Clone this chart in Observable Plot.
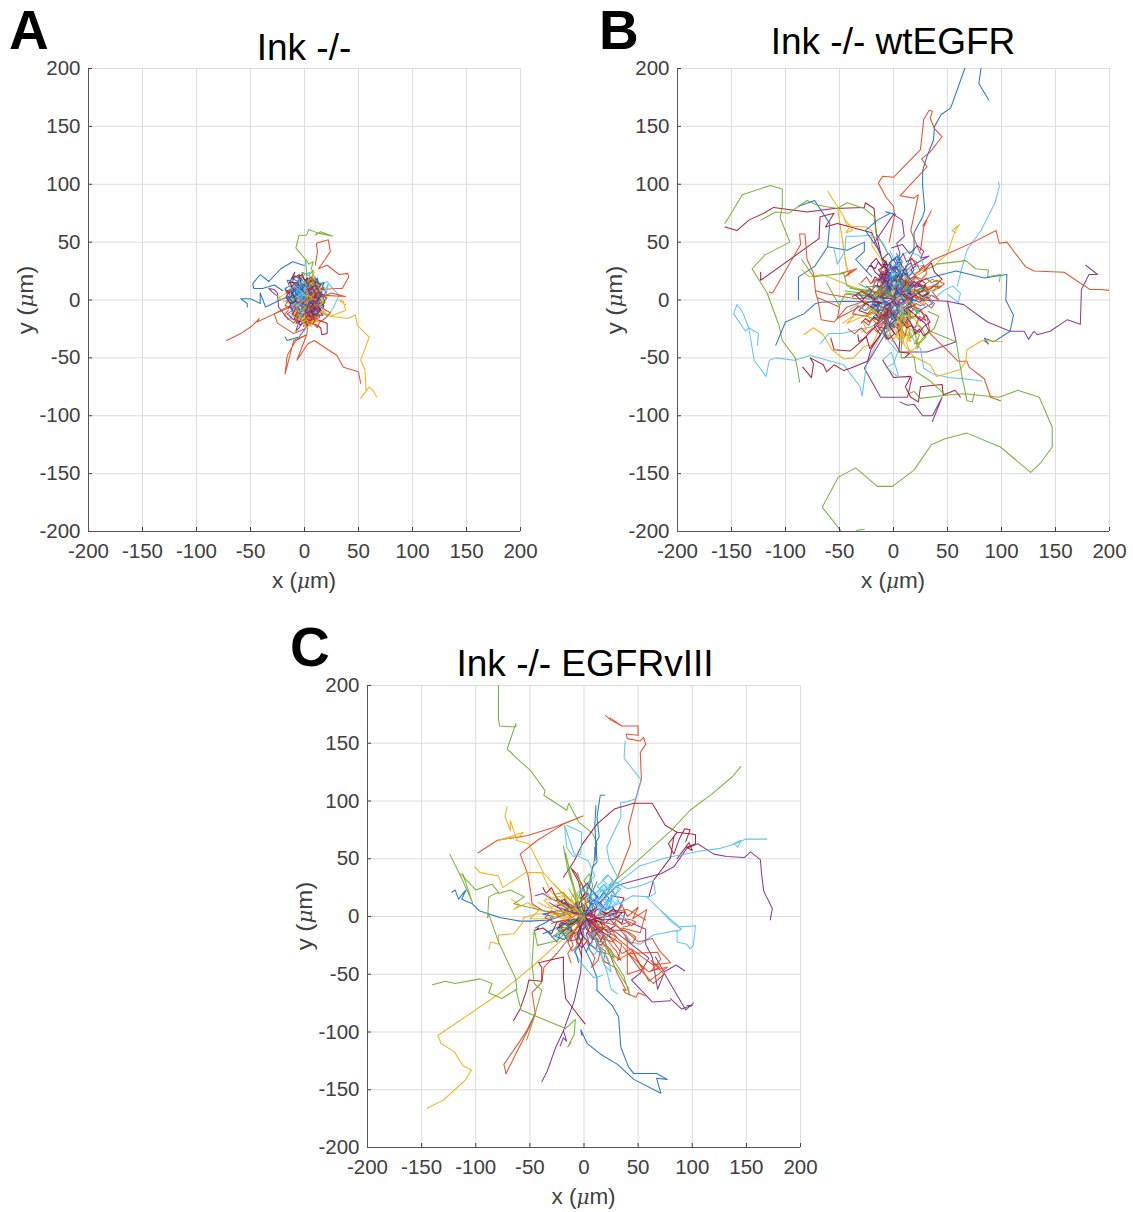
<!DOCTYPE html>
<html>
<head>
<meta charset="utf-8">
<script src="https://cdn.jsdelivr.net/npm/d3@7"></script>
<script src="https://cdn.jsdelivr.net/npm/@observablehq/plot@0.6"></script>
<style>
html,body{margin:0;padding:0;background:#fff}
#page{position:relative;width:1133px;height:1212px;overflow:hidden;background:#fff}
#page>div{position:absolute}
.panelPlot svg{display:block;background:transparent;max-width:none}
.title{font:37px "Liberation Sans",Arial,sans-serif;color:#000;white-space:nowrap;transform:translateX(-50%);line-height:1}
.letter{font:bold 55px "Liberation Sans",Arial,sans-serif;color:#000;line-height:1}
.lab{font:22.5px "Liberation Sans",sans-serif;color:#404040;white-space:nowrap;line-height:1}
.lab i{font-family:"DejaVu Serif","Liberation Serif",serif;font-size:20px}
</style>
</head>
<body>
<div id="page"></div>
<script>
// Axis ticks
const tickValues = [-200,-150,-100,-50,0,50,100,150,200];
const titles = ["Ink -/-","Ink -/- wtEGFR","Ink -/- EGFRvIII"];
const letters = ["A","B","C"];
const colorNames = {blue:"#1a6cc4",red:"#e0461e",yellow:"#f0ab10",purple:"#7e2f8e",green:"#6cad2c",sky:"#55c0f0",wine:"#a2142f"};

// Panel A tracks, flat x,y lists
const aBlue = [
 [0,30,-1,30,-11,33,-22,27,-33,16,-41,22,-48,14,-47,10,-39,10,-28,13,-20,8],
 [-8,2,-15,3,-25,-1,-36,-6,-41,6,-41,-3,-50,1,-59,1,-53,-3,-53,-6],
 [0,-12,2,-23,-5,-32,-16,-35,-18,-32],
 [0,0,-4,5,-9,3,-7,9,-13,12,-10,6,-15,2,-9,-3,-12,-8,-5,-6,-7,-12,-1,-9,3,-14,5,-7],
 [0,0,5,4,2,10,7,14,4,19,9,16,11,9,16,6,12,1,17,-3,11,-7,13,-13,7,-10],
 [1,2,-3,-5,2,-8,-2,-14,-7,-10,-9,-17,-3,-19,2,-15,5,-15,9,-17,7,-9],
 [3,-2,6,-2,10,3,6,7,-1,5,-3,12,2,15,-2,20,-6,16,-10,18],
 [2,1,-3,2,-2,8,3,6,7,10,2,12,-4,9,-8,12,-12,7,-7,1,-11,-3],
 [4,-3,9,-1,7,-7,2,-6,4,-11,10,-9,13,-4,8,1,12,6,6,3],
 [1,0,-1,3,-4,2,-5,6,-8,5,-9,9,-6,11,-3,9,-1,13,2,11,3,15,6,12,5,8,8,6,6,2,9,0,7,-3,4,-2,3,-6,0,-4],
 [-6,-2,-9,0,-12,-2,-14,2,-11,4,-13,8,-9,8,-7,5,-4,7,-5,2,-2,0,-4,-3,-1,-6,-4,-9,-8,-7,-10,-10,-13,-7],
 [-15,6,-18,10,-14,12,-16,17,-11,16,-9,21,-5,18,-7,13,-3,12,-6,7,-10,9,-12,3,-17,1],
 [16,-5,19,-2,17,3,20,7,16,10,18,15,13,14,12,19,9,16,11,10,15,6,12,2,14,-3]
];
const aRed = [
 [15,9,30,10,35,10,41,20,40,23,32,22,21,30,13,27,19,35,24,42,22,52,11,49,12,42,10,30],
 [-16,-6,-28,-12,-44,-19,-42,-16,-48,-22,-59,-29,-72,-35],
 [-10,-5,-28,-12,-25,-20,-10,-29,0,-25],
 [5,-10,2,-30,-10,-35,-13,-46,-18,-64,-16,-48,-8,-35,2,-30,-7,-52,3,-38,9,-35,30,-48,36,-58,50,-62,52,-72],
 [3,0,18,4,38,3,25,6,14,2],
 [0,-2,-6,-6,-3,-12,-10,-14,-6,-20,2,-16,-1,-23,6,-19,9,-12,4,-8,12,-6,16,-12],
 [1,1,7,6,3,12,9,15,12,8,18,11,14,4,21,2,16,-3,9,-2],
 [-1,3,-7,6,-11,12,-15,6,-18,9,-14,1,-18,-5,-11,-7,-7,-1,-3,-6],
 [2,-1,-2,4,4,8,0,14,6,20,10,14,7,9,13,6,9,0],
 [3,1,5,3,8,2,9,5,12,4,14,7,11,9,9,7,7,10,4,8,5,5,2,6,1,3,-1,1,-1,-3,2,-4,4,-7,7,-5,8,-8,11,-6,12,-2],
 [-3,-4,-5,-1,-8,-3,-9,-7,-6,-9,-8,-12,-4,-13,-3,-9,0,-10,1,-14,4,-12,5,-17,8,-15,10,-18,7,-21],
 [-15,-9,-19,-13,-14,-17,-10,-20,-6,-15,-12,-12,-8,-7],
 [18,-8,24,-11,19,-16,14,-19,12,-24,8,-20,12,-13,17,-13]
];
const aYellow = [
 [9,-8,24,-14,40,-16,47,-13,49,-22,60,-32,52,-52,56,-60,57,-79,52,-85,60,-75,64,-79,67,-84],
 [14,-8,24,-14,38,-9,36,-1,32,0,38,-4],
 [-2,0,-8,6,-14,8,-20,4,-24,2,-16,-2,-8,-3],
 [2,0,6,-6,11,-2,15,-8,10,-13,13,-19,8,-16,5,-22,3,-14,-2,-10,2,-5],
 [0,1,4,6,0,11,5,16,9,11,12,16,15,10,10,5,16,2,12,-3,7,-1],
 [1,-1,-5,-2,-9,-8,-4,-11,-8,-15,-2,-17,1,-12,6,-15,4,-8,8,-5,3,-3],
 [3,2,-1,7,-6,5,-4,12,2,10,5,18,9,24,6,14,12,12,8,5],
 [2,-2,7,2,12,-3,18,0,14,-6,19,-10,12,-12,8,-7,3,-10],
 [4,-4,6,-8,9,-9,8,-13,11,-15,10,-19,7,-18,6,-23,3,-20,4,-16,1,-14,3,-11,0,-9,2,-6,5,-5,7,-2,10,-4,12,-7,14,-4],
 [6,3,9,5,7,8,10,9,12,6,15,8,13,11,9,12,8,15,5,14,4,10,2,8,4,4,7,1,10,0,13,-2,16,0,17,-3],
 [-4,-16,-1,-21,3,-24,-2,-19,2,-17,-3,-13,-6,-17,-10,-14,-8,-9]
];
const aPurple = [
 [-15,-17,-24,-6,-25,6,-28,9,-33,10,-30,7,-26,4],
 [0,-1,-6,3,-2,8,-8,10,-12,5,-7,0,-11,-5,-5,-8,-9,-14,-3,-12,1,-17,5,-11,9,-15,7,-7],
 [2,0,6,4,11,2,9,8,14,7,12,13,6,11,3,17,-1,12,-4,16,-2,7],
 [1,-2,5,-7,10,-5,14,-10,8,-13,6,-20,0,-18,-4,-22,-7,-16,-3,-9],
 [4,1,10,-3,16,-1,18,-7,12,-9,7,-4,3,-7,-2,-3,2,2,8,4],
 [-2,-1,-8,-4,-14,-2,-11,-9,-16,-12,-10,-17,-6,-11,-1,-13],
 [3,-4,7,-9,3,-12,9,-17,14,-15,10,-8,15,-5,8,-1],
 [5,-1,8,-3,6,-6,9,-8,11,-5,13,-7,14,-3,11,-2,9,1,7,-2,5,-5,7,-9,4,-11,6,-14,9,-12,11,-15,12,-10,15,-9,13,-5],
 [7,1,10,3,8,-1,12,0,13,3,10,6,7,4,5,1,4,-3,2,-5,5,-7,8,-6,10,-9,7,-11,5,-8,3,-10,4,-14,7,-16],
 [6,-5,8,-7,11,-8,13,-6,10,-4,12,-1,9,-1,8,-4,6,-2,4,-4,6,-8,9,-10,8,-13,11,-12,13,-11],
 [-2,-20,-5,-24,-8,-27,-6,-21,-4,-17,-1,-13,2,-9],
 [13,1,16,4,13,7,10,5,8,8,12,11,9,13,6,9,3,10,4,6,7,5]
];
const aGreen = [
 [2,10,2,23,1,35,-8,45,-5,56,2,56,4,61,12,58,26,55,15,59,10,56,12,58],
 [1,35,4,31,8,33,6,26],
 [0,0,-5,-3,-9,2,-14,-1,-10,7,-5,10,-8,15,-2,14,2,18,6,12,2,7],
 [2,-1,8,-5,12,0,17,-4,20,2,15,7,11,4,8,10,13,15,9,20],
 [1,1,-3,-6,2,-10,-5,-14,-1,-20,4,-16,8,-21,10,-13,5,-9],
 [-1,2,3,7,-3,10,1,15,-4,18,-2,24,4,21,8,26,7,16,3,12],
 [3,0,9,-6,15,-10,11,-15,6,-12,3,-17,-3,-14,-8,-18,-6,-8],
 [4,3,6,6,9,5,8,9,5,10,7,13,3,13,4,17,7,19,9,15,11,18,12,13,10,10,13,8,11,4,14,3],
 [-12,-3,-8,-6,-4,-3,-1,-7,3,-4,6,-8,9,-5,7,0,3,-1,0,3,-4,0,-7,3,-11,1]
];
const aSky = [
 [5,-3,21,-14,26,-8,32,4,26,10,21,16,14,12],
 [0,0,-4,4,-8,1,-12,6,-7,10,-11,15,-5,14,-1,19,3,13,7,18,8,9],
 [2,1,7,4,12,1,16,6,11,11,16,14,19,9,22,14,20,4,14,-1],
 [1,-1,-3,-5,-8,-3,-13,-7,-9,-12,-14,-16,-7,-18,-2,-12,3,-16,6,-10],
 [3,2,-2,6,3,9,-1,14,5,17,9,21,11,12,6,8,11,5],
 [-1,-2,-6,-1,-12,2,-17,-1,-13,4,-8,7,-3,3,2,6,6,1],
 [4,-1,10,-4,8,-10,14,-12,17,-6,11,-1,5,-5,1,-8,-2,-3],
 [1,3,5,8,1,12,-3,7,-8,12,-4,18,0,22,5,24,4,15],
 [-2,2,-5,4,-4,8,-7,7,-9,10,-6,12,-4,10,-2,13,1,10,0,7,-3,6,-1,3,-4,1,-7,3,-10,1,-8,-2,-11,-4,-8,-6,-5,-3,-2,-5],
 [-6,6,-10,7,-12,10,-9,12,-6,9,-3,11,-5,15,-1,16,2,13,0,9,3,7,1,4,-2,6,-5,2,-8,4],
 [-3,-2,-6,-5,-9,-3,-12,-5,-10,-8,-7,-7,-5,-10,-2,-8,0,-11,-3,-13,-6,-12,-4,-16],
 [-7,2,-5,5,-8,8,-5,9,-3,5,-6,3,-3,1,-1,5,2,3,0,0,-3,-1]
];
const aWine = [
 [5,-8,12,-17,21,-20,21,-29,16,-30,15,-24,10,-21],
 [-14,15,-9,24,-11,18,-5,22,-3,14,1,10],
 [0,0,6,3,2,8,8,11,4,15,10,19,14,13,11,7,17,5,12,0],
 [1,-1,-4,-4,-1,-9,-7,-7,-11,-12,-5,-15,-8,-20,-1,-17,3,-22,4,-12,9,-10,7,-4],
 [-1,1,-6,4,-12,2,-16,8,-10,10,-14,15,-7,15,-3,9,2,13,-1,4],
 [3,-1,9,-3,14,1,18,-5,13,-8,17,-13,10,-14,6,-8,2,-13,0,-6],
 [2,2,-2,-3,4,-5,8,0,4,4,10,6,6,10,0,7,-5,9,-8,3,-3,-1],
 [-4,6,-7,9,-10,8,-12,12,-9,14,-7,11,-5,14,-3,18,-6,20,-2,22,0,17,3,19,1,13,-2,11,-1,7,2,5,-1,3],
 [6,6,9,8,7,11,10,13,13,10,15,13,12,16,8,14,6,17,3,14,5,10,2,9,3,5,6,3,9,4,12,2,10,-1,7,0],
 [3,-6,0,-10,4,-12,1,-16,5,-18,9,-14,6,-10,10,-7,7,-3],
 [-14,-2,-17,3,-14,7,-10,4,-8,-1,-12,-3,-15,-7]
];

// Panel B tracks
const bBlue = [
 [5,15,19,43,19,58,27,72,29,78,27,98,27,112,31,124,37,138,38,150,44,160,53,166,66,200,69,210,81,210,81,200,79,187,88,173],
 [10,12,37,20,58,25,84,19,105,22,104,0,111,-13,108,-27,93,-36,84,-33,88,-38,84,-35],
 [-20,20,-35,35,-27,42,-27,50,-43,43,-61,46,-59,66,-73,86,-88,81],
 [-10,-2,-43,-1,-67,-2,-72,-3,-83,-12,-100,-19,-109,-39],
 [-88,0,-88,20,-73,29,-61,46],
 [-5,25,-15,45,-26,60,-15,69,-3,75,-7,76,2,74],
 [0,0,-6,7,-2,14,-9,18,-5,26,-12,24,-15,13,-8,8,-13,2,-6,-4,-9,-11,-2,-8,1,-15,6,-9],
 [1,1,6,6,2,13,8,18,4,24,11,27,14,17,9,11,17,8,12,2,18,-2,10,-6,13,-13],
 [-1,0,-5,-7,0,-12,-6,-16,-3,-24,3,-20,6,-27,9,-17,4,-10,11,-9,7,-3],
 [2,2,-3,5,-8,2,-6,10,0,9,3,17,-3,20,-1,29,6,25,8,33,3,40],
 [0,-1,7,-3,13,2,20,-1,26,4,21,8,28,12,17,13,11,7,6,11,3,4],
 [1,0,-7,-4,-15,-1,-21,-6,-14,-10,-19,-15,-9,-16,-4,-10,-1,-17,4,-12],
 [0,2,3,8,-2,12,-8,11,-11,18,-4,22,0,16,5,21,8,14,4,7],
 [-2,1,5,-5,10,-1,6,4,14,6,18,0,13,-5,16,-11,8,-12,5,-18],
 [2,4,4,8,1,11,4,14,7,12,6,17,2,18,3,23,-1,24,1,29,4,31,2,36,-2,34,-3,28,-6,26,-4,20,-7,17,-5,12,-2,10,-3,5],
 [-3,8,-5,12,-2,15,1,19,-3,22,-6,25,-8,30,-3,31,0,27,3,29,5,24,8,22,6,16,9,12,5,10,3,6],
 [6,-4,3,-7,5,-11,1,-13,3,-17,-1,-19,1,-24,-3,-21,-5,-17,-2,-13,-5,-9,-2,-5],
 [-4,40,-1,34,3,38,7,32,3,27,7,23,2,21,-1,16,-4,21,-8,16,-5,11,-9,6],
 [-25,12,-20,8,-23,3,-17,1,-20,-4,-13,-4,-16,-9,-10,-9,-7,-3,-11,3,-7,7],
 [5,18,9,24,13,22,11,29,16,32,19,26,14,20,18,15,13,12,16,7,10,9],
 [-14,-24,-10,-28,-6,-34,-9,-25,-5,-21,-9,-16,-3,-15,1,-9]
];
const bRed = [
 [25,40,19,53,16,60,23,91,19,88,6,90,31,115,26,122,34,128,45,141,38,148,34,157,36,163,33,164,28,156,25,130,0,106,-10,107,-14,101,-7,89,0,81,1,73,-4,50],
 [20,22,37,35,50,40,74,50,95,60,98,49,105,50,122,29,130,25,158,24,182,9,192,9,203,8],
 [25,43,28,63,31,69,27,64,31,70,35,77],
 [99,-87,90,-84,84,-68,70,-58,68,-53,60,-53,34,-29,31,-14,22,-8],
 [-115,7,-112,6,-86,48,-87,57,-82,57,-80,35,-74,23,-72,6,-70,0,-67,-17,-55,-19,-43,-6,-30,-2],
 [-49,23,-41,25,-34,27,-45,20,-38,26],
 [-72,8,-60,5,-35,1,-20,2,-10,3],
 [-70,2,-50,-6,-52,-16,-38,-9,-26,-3],
 [0,0,5,7,1,13,7,19,12,13,9,7,16,9,21,4,15,0,20,-5,12,-7],
 [-1,0,-6,5,-13,2,-10,10,-17,12,-22,6,-15,0,-20,-6,-11,-5,-7,-11,-3,-5],
 [1,-1,6,-7,2,-13,8,-18,4,-25,-2,-20,-5,-27,-9,-19,-4,-13,0,-9],
 [2,1,10,0,18,3,28,-1,35,4,42,0,36,7,44,12,30,11,22,15,14,8],
 [0,2,-4,9,-10,14,-5,20,-12,26,-6,31,1,24,5,30,6,20,3,12],
 [-2,-2,-9,-7,-16,-4,-26,-9,-33,-5,-38,-12,-26,-14,-18,-11,-13,-16,-6,-12],
 [3,-3,11,-8,17,-15,12,-20,20,-24,24,-14,30,-18,25,-8,16,-5],
 [8,3,12,2,14,6,18,5,20,9,25,7,28,11,33,9,37,13,42,10,47,14,40,17,35,15,30,19,25,16,20,20,15,15,10,17,8,11],
 [5,-2,9,-4,13,-2,17,-6,21,-3,25,-5,30,-3,35,-7,38,-3,33,1,28,3,22,2,18,5,13,3,9,5],
 [-30,8,-26,5,-22,10,-17,6,-13,9,-8,4,-11,14,-16,18,-21,14,-25,20,-30,15],
 [-28,-18,-23,-22,-20,-16,-15,-21,-11,-14,-6,-18,-3,-8],
 [12,25,17,30,15,36,21,33,24,26,28,30,31,23,26,18,21,20,17,14],
 [-42,-25,-36,-29,-30,-24,-25,-29,-19,-24,-15,-28,-9,-20,-4,-12]
];
const bYellow = [
 [10,20,37,29,50,40,57,60,61,65,54,60,58,58],
 [-61,94,-52,81,-44,30,-41,20,-44,32,-52,81,-46,72,-43,64,-25,63,-20,60,-20,47,-10,33,-4,15],
 [-46,70,-40,64,-44,58,-38,60,-42,66],
 [-83,-30,-74,-24,-65,-30,-57,-43,-46,-51,-37,-50,-27,-40,-20,-39,-12,-23,-4,-12],
 [101,-36,82,-35,68,-43,67,-53,62,-60,40,-66,34,-56,19,-49,10,-39,6,-20],
 [-47,-20,-35,-12,-43,-20,-30,-15,-18,-8],
 [-85,26,-78,20,-66,22,-40,12,-20,6],
 [0,0,4,-6,8,-12,3,-18,8,-25,3,-32,8,-38,12,-27,15,-18,10,-10,16,-5],
 [-1,0,-4,-8,-9,-13,-5,-20,-11,-26,-7,-34,-1,-27,1,-19,-3,-12,3,-7],
 [1,1,7,3,13,-1,20,3,27,-3,33,2,25,7,18,9,10,5],
 [0,1,-7,3,-14,-2,-20,3,-27,-1,-22,-7,-13,-8,-7,-4],
 [2,0,5,-9,11,-15,17,-12,22,-20,27,-25,21,-29,14,-24,9,-31,5,-18],
 [-1,2,2,10,-3,15,3,20,8,14,11,22,15,17,10,9,5,4],
 [0,-2,-3,-12,2,-18,-2,-24,4,-28,-1,-36,-6,-30,-5,-20],
 [6,-8,9,-11,7,-15,11,-17,9,-21,13,-23,11,-28,15,-30,12,-34,16,-36,13,-30,8,-33,6,-27,9,-23,5,-20,7,-15,3,-12],
 [3,-10,1,-14,4,-17,1,-21,5,-24,2,-29,5,-33,9,-29,7,-24,10,-20,13,-24,16,-19,13,-14,15,-10,11,-8,8,-5],
 [18,-28,22,-33,19,-38,25,-36,20,-42,15,-44,12,-37,16,-31],
 [-30,-28,-25,-25,-28,-20,-21,-18,-24,-13,-17,-10,-12,-14,-8,-8]
];
const bPurple = [
 [25,0,50,-1,65,-4,87,-19,108,-27,121,-27,125,-34,130,-27,133,-30,145,-27,161,-17,173,-21,174,9,181,22,189,22,178,30],
 [-5,-25,-27,-59,-12,-84,13,-84,17,-67],
 [50,-1,58,-36,31,-45,6,-45,-3,-30],
 [6,-88,13,-91,19,-90,27,-100,36,-100,45,-84,36,-105],
 [-18,49,0,74,8,69,10,55,3,49,6,40,0,25],
 [-2,45,8,48,15,40,22,47,28,42,25,36,33,38,18,30],
 [0,0,5,5,0,10,6,16,2,22,8,26,13,19,9,12,15,9,20,13,19,5,12,2],
 [-1,1,-7,-2,-12,3,-18,-1,-24,5,-29,-1,-20,-6,-14,-3,-10,-9,-3,-6],
 [1,-1,4,-8,-2,-12,3,-18,-3,-24,2,-30,7,-24,11,-31,13,-19,8,-13,12,-7],
 [0,1,-4,7,-9,4,-12,12,-7,16,-11,23,-3,24,-1,17,3,23,2,12],
 [2,0,9,-3,15,2,24,-2,31,3,36,-3,28,-7,22,-11,16,-6,8,-8],
 [0,-1,-6,-8,-12,-11,-8,-18,-15,-23,-6,-25,-2,-17,2,-10],
 [-2,2,3,6,9,5,4,12,11,17,17,11,23,15,29,9,21,5,13,7],
 [-3,3,-6,6,-4,10,-8,13,-5,17,-9,20,-6,24,-2,27,-4,32,0,35,3,30,1,25,5,22,2,17,5,13,1,9],
 [-4,-3,-8,-1,-11,-4,-14,-1,-16,-5,-13,-9,-16,-13,-11,-15,-8,-11,-5,-14,-6,-8,-2,-9,-3,-4],
 [-6,8,-9,11,-13,9,-15,13,-19,11,-17,16,-13,18,-10,14,-8,19,-5,15,-3,11,-6,9],
 [4,-2,7,1,10,-2,13,2,16,-1,18,3,15,6,11,4,9,8,6,5,3,9,1,5,2,1,-1,-2,2,-5,5,-3],
 [5,34,9,40,12,33,17,36,21,30,16,26,20,21,15,18,11,23,7,19],
 [-25,25,-22,30,-17,27,-14,33,-10,28,-7,34,-5,27,-9,22,-12,18],
 [20,-14,25,-18,30,-13,34,-19,28,-23,24,-28,19,-25,16,-20,12,-15],
 [-38,3,-32,6,-28,1,-23,5,-18,0,-14,4,-9,1,-5,3]
];
const bGreen = [
 [-44,-205,-66,-179,-51,-153,-35,-145,-15,-161,-1,-161,19,-147,35,-125,47,-120,68,-115,99,-127,127,-149,136,-141,147,-127,147,-110,135,-84,115,-78,98,-84,65,-81,50,-82,25,-85,19,-79,14,-81],
 [-36,-205,-34,-199,-27,-198],
 [-156,66,-140,91,-114,99,-103,96,-103,81,-105,71,-96,50,-119,39,-131,27,-117,6,-106,-22,-103,-35,-91,-50,-89,-59,-87,-71],
 [-123,69,-109,76,-97,75,-80,86,-71,82,-52,79,-43,84,-27,79,-18,72,-16,58,-5,40],
 [10,15,40,31,67,34,76,27,88,26,87,20,99,22,98,16],
 [34,-27,58,-36,64,-69,67,-82,68,-87,73,-88,75,-80],
 [-85,35,-74,20,-46,23,-43,12,-25,6,-10,2],
 [-62,15,-50,-5,-45,5,-20,3,-5,1],
 [8,-20,7,-50,19,-49,21,-62,34,-70,48,-82],
 [20,-25,22,-42,26,-34,38,-24,42,-14,32,-10],
 [0,0,6,-5,11,1,17,-4,23,-9,18,-16,11,-12,7,-19,2,-14],
 [-1,0,-5,6,-11,3,-15,9,-9,13,-12,19,-5,17,0,11,4,16],
 [1,1,8,6,14,12,21,7,28,12,33,7,26,3,18,0,12,-4],
 [0,-1,-4,-9,-10,-6,-15,-12,-21,-8,-25,-14,-16,-17,-10,-14,-6,-20],
 [1,2,-1,9,5,15,1,21,7,26,12,21,9,13,14,6],
 [-45,8,-38,7,-30,6,-24,8,-16,6,-8,7,-2,5,-8,4,-18,5,-28,4,-36,5,-44,6],
 [-40,10,-30,9,-20,8,-10,6,-2,3],
 [15,-18,18,-24,23,-22,27,-26,30,-32,26,-36,21,-38,24,-30,20,-28,16,-33,14,-27],
 [5,-8,9,-12,12,-8,16,-11,19,-7,23,-10,20,-14,15,-15,11,-19,8,-15],
 [-32,14,-26,11,-18,12,-10,9,-4,6],
 [30,14,36,18,42,15,38,9,31,7,26,10,20,5]
];
const bSky = [
 [59,12,62,23,68,43,81,60,94,84,98,98,97,102],
 [-126,-39,-125,-29,-134,-24,-137,-27,-148,-12,-145,-4,-140,-10,-134,-24,-129,-52,-118,-66,-115,-52,-109,-50,-92,-52,-77,-48,-46,-56,-31,-75,-29,-83,-25,-55,-18,-42,-6,-20],
 [82,-70,65,-68,51,-67,37,-64,28,-59,25,-42,19,-35,12,-20],
 [-55,44,-52,31,-45,42,-44,55,-34,55,-20,56,-10,50,-5,40],
 [-68,-38,-60,-29,-48,-29,-34,-26,-20,-23,-6,-15],
 [-10,-52,-2,-45,5,-67,-7,-58,0,-55,4,-45,-5,-35,-2,-20],
 [50,5,60,-2,62,6,55,12,46,8,40,3,30,5],
 [8,40,15,42,24,38,28,30,18,28,12,22],
 [0,0,-5,-6,-10,-1,-16,-5,-12,-12,-18,-16,-9,-19,-4,-12,1,-18,4,-10],
 [1,0,5,6,1,12,-4,9,-7,16,-1,19,4,25,9,19,7,11,14,9,10,3],
 [-1,1,-6,5,-12,8,-19,4,-25,9,-30,3,-22,0,-15,2,-9,-2,-4,3],
 [2,-1,9,-5,6,-11,13,-14,18,-8,24,-12,20,-3,13,1,7,-3],
 [0,2,4,9,9,15,14,22,8,27,3,33,-2,27,1,19,-4,15,-1,7],
 [-1,-2,3,-7,-2,-13,3,-20,-3,-26,-8,-20,-6,-12,-1,-6],
 [3,3,6,6,4,9,7,12,4,15,0,13,-2,16,1,19,-3,21,-5,17,-8,19,-7,14,-10,12,-6,9,-3,7,-6,4,-2,2],
 [-2,-3,1,-5,-1,-9,3,-10,5,-7,8,-9,6,-4,10,-3,12,1,8,3,5,1,3,4],
 [-3,42,0,36,5,37,2,30,7,28,4,22,-1,25,-3,18,2,15,-1,10],
 [-40,-8,-33,-4,-27,-9,-21,-4,-15,-8,-10,-3,-5,-6],
 [25,-3,31,-6,36,-2,33,4,27,2,21,6,16,3,11,6]
];
const bWine = [
 [-156,63,-145,60,-134,69,-120,75,-111,80,-80,76,-55,79,-27,80,-26,84,-18,79,-16,58,-10,32,-2,12],
 [-123,17,-123,24,-123,17,-69,53,-68,72,-55,75,-63,63,-52,66,-20,58,-12,40],
 [-84,-58,-76,-67,-74,-55,-77,-50,-65,-56,-62,-62,-55,-56,-46,-61,-40,-59,-24,-53,-21,-43,-6,-20],
 [-10,-52,0,-67,16,-66,11,-75,16,-84,23,-88,25,-75,45,-73,46,-82,57,-78,62,-84],
 [-58,-33,-55,-43,-40,-44,-30,-36,-22,-28,-10,-17],
 [-33,-30,-32,-36,-25,-32,-22,-42,-12,-30,-18,-22,-6,-12],
 [10,-50,15,-46,5,-45,6,-32,3,-20],
 [28,25,35,32,38,24,45,18,35,10,22,6],
 [0,0,5,-6,1,-12,7,-17,3,-24,10,-22,14,-14,10,-8,17,-5,12,1],
 [-1,0,-5,7,-10,4,-14,11,-8,15,-12,22,-5,22,-2,14,2,20,3,10],
 [1,1,8,5,13,0,19,5,26,1,33,6,29,13,21,11,15,16,10,9],
 [0,-1,-6,-5,-12,-2,-19,-7,-25,-3,-32,-9,-23,-12,-16,-9,-11,-15,-5,-10],
 [0,2,3,9,-2,14,4,20,-1,27,5,33,10,27,7,19,12,14,6,7],
 [2,-2,-3,-10,2,-17,-4,-22,1,-29,-5,-34,-9,-26,-6,-16],
 [-2,1,-9,2,-16,7,-22,2,-29,8,-35,4,-27,-3,-19,-1,-11,-3],
 [-20,15,-17,20,-13,17,-10,22,-14,26,-9,29,-5,26,-8,20,-4,18,-6,13,-2,10,-5,6],
 [15,12,19,16,23,13,26,17,30,14,27,9,32,6,27,3,22,6,18,3,14,6,11,2,8,5],
 [-30,-20,-26,-16,-22,-19,-18,-15,-14,-18,-11,-12,-7,-15,-5,-9,-9,-6,-4,-3],
 [8,-18,12,-24,17,-22,20,-29,24,-25,28,-31,33,-27,29,-20,24,-16,19,-12,14,-8],
 [-5,40,-10,36,-6,31,-12,30,-16,36,-21,31,-17,24,-12,20,-7,16]
];

// Panel C tracks
const cBlue = [
 [-6,-15,6,-38,12,-53,12,-64,26,-77,32,-87,34,-113,41,-130,46,-136,67,-136,77,-141,67,-140,71,-153,46,-141,31,-128,15,-119,3,-110,-3,-98,-2,-103],
 [-122,21,-119,23,-116,15,-109,23,-113,15,-103,11,-97,5,-77,-1,-59,-4,-50,-4,-32,-3,-15,2,-5,3],
 [19,105,15,105,12,86,14,69,11,64,12,47,8,43,5,25],
 [11,96,10,80,11,62,10,48,10,60],
 [-45,-10,-35,-5,-28,0,-38,2,-25,5,-12,3],
 [-35,-12,-25,-22,-22,-15,-14,-8,-8,-4],
 [0,0,4,6,9,4,7,11,13,12,17,8,14,3,20,1,17,-5,10,-3],
 [1,0,-5,-5,-10,-2,-15,-7,-11,-12,-17,-17,-21,-12,-14,-22],
 [0,1,6,10,3,15,9,20,14,15,18,21,23,16,19,10],
 [0,-1,3,-7,9,-10,7,-17,13,-21,11,-28,5,-24,2,-31],
 [-2,-1,-8,-3,-14,-8,-20,-6,-25,-11,-20,-14,-27,-17,-18,-20,-13,-16,-8,-11,-3,-5],
 [-30,-6,-24,-4,-18,-6,-12,-3,-6,-2,-1,0],
 [-22,6,-18,2,-14,5,-9,2,-4,1],
 [-38,-15,-30,-12,-24,-9,-17,-10,-11,-5,-5,-3],
 [-5,-40,-8,-30,-3,-22,-6,-14,-2,-7,0,-2],
 [-18,14,-12,10,-7,8,-3,4,0,1],
 [12,30,8,22,13,17,7,13,4,6]
];
const cRed = [
 [20,174,25,170,35,165,24,172,35,165,50,165,50,157,39,158,40,154,52,152,55,155,57,149,52,142,53,119,48,103,41,77,43,63,31,34,15,11],
 [-98,55,-80,66,-53,70,-28,77,-1,87,-19,80,-43,66,-59,54,-52,37,-49,20,-48,11,-38,5,-20,2],
 [-72,-136,-74,-128,-60,-109,-53,-99,-45,-84,-48,-66,-39,-57,-37,-44,-25,-32,-5,-8],
 [-72,-136,-63,-119,-51,-97,-45,-84],
 [57,-3,50,1,40,6,25,4,10,0],
 [28,-5,40,-19,40,-50,56,-45,41,-32,68,-31,71,-37,62,-47,77,-44,60,-56,45,-30,30,-18,8,-5],
 [58,-69,50,-66,48,-70,38,-66,36,-63,39,-64,31,-50,26,-38,18,-18,6,-3],
 [15,-5,28,-12,38,-12,50,-22,63,-19,70,-30,80,-40,64,-42,55,-36,44,-28,35,-32,22,-15],
 [20,-15,35,-24,31,-38,45,-30,52,-42,60,-48,70,-44,62,-38,74,-50,64,-58,52,-46,36,-26],
 [35,-10,52,-14,58,6,45,-2,50,8,40,0,35,10,30,2,18,2],
 [0,0,5,-7,11,-4,16,-11,22,-8,25,-15,18,-20,12,-14,7,-19,3,-10],
 [1,-1,8,2,14,-2,21,3,27,-3,33,1,27,-7,18,-5,10,-8],
 [-1,0,-6,-7,-3,-13,-9,-17,-5,-25,-11,-30,-15,-22,-9,-12],
 [0,1,-5,3,-11,-1,-17,4,-23,0,-30,5,-36,-1,-27,-5,-18,-3,-9,-6],
 [32,-4,35,-7,40,-5,44,-8,48,-5,44,-3,38,-2,42,-8,36,-9],
 [6,-6,12,-10,17,-9,22,-14,26,-12,30,-18,26,-22,20,-20,16,-25,11,-22,8,-14],
 [10,-12,14,-18,18,-24,24,-28,28,-34,34,-38,30,-30,26,-26,20,-18,14,-10,8,-6],
 [3,-5,8,-9,6,-16,12,-19,14,-26,20,-30,18,-38,24,-42,20,-34,15,-28,10,-18],
 [-12,-40,-15,-32,-10,-25,-13,-17,-7,-11,-4,-5],
 [2,-20,5,-28,10,-36,7,-44,13,-38,15,-30,11,-22],
 [38,-18,44,-24,48,-18,42,-14,36,-12,30,-8]
];
const cYellow = [
 [-145,-166,-130,-159,-110,-142,-104,-133,-112,-129,-120,-117,-132,-110,-135,-103,-80,-68,-46,-42,-25,-24,-6,-9],
 [-71,95,-73,87,-68,74,-68,83,-63,69,-79,66,-56,73,-63,66,-51,63,-37,37,-25,25,-12,14,-3,4],
 [-101,43,-96,38,-79,35,-75,25,-54,38,-39,38,-31,22,-20,12,-8,5],
 [-88,-28,-86,-22,-79,-24,-79,-16,-65,-15,-57,-6,-56,-1,-45,2,-30,3,-12,1],
 [-67,15,-60,10,-65,6,-52,12,-42,5,-50,-2,-38,-2,-25,0,-10,-1],
 [0,0,-5,4,-11,8,-17,5,-24,11,-30,8,-37,14,-29,16,-20,18,-13,10,-8,3],
 [1,1,-3,-5,-8,-2,-12,-9,-18,-7,-24,-13,-16,-15,-8,-11],
 [0,-1,5,3,10,-1,15,4,20,0,12,-4,6,-2],
 [0,1,-2,7,3,13,-1,18,-6,15,-8,21,-12,16,-7,8],
 [-1,-1,-6,-3,-13,0,-20,-2,-27,3,-19,5,-11,3,-5,6],
 [0,0,2,-8,-3,-13,1,-19,-4,-24,-8,-17,-4,-9],
 [-35,20,-28,14,-20,10,-13,7,-6,4,0,1],
 [-22,22,-16,16,-10,11,-5,6,-1,2],
 [-18,-3,-12,-1,-7,-2,-3,0],
 [-10,25,-7,18,-5,11,-2,5,0,0],
 [-42,12,-34,8,-26,6,-18,4,-10,2,-2,0],
 [-28,28,-20,20,-15,12,-9,9,-4,3],
 [-16,-20,-11,-14,-7,-9,-3,-4,0,-1],
 [-30,2,-22,1,-15,3,-8,1,-2,1]
];
const cPurple = [
 [172,-3,174,7,166,22,164,37,163,49,154,56,148,51,132,52,120,54,105,63,95,59,83,43,71,37,46,31,31,27,12,10],
 [-39,-143,-34,-134,-26,-113,-19,-99,-9,-73,-3,-48,-2,-27,0,-8],
 [101,-75,94,-81,74,-49,68,-63,63,-35,57,-24,57,-11,40,-4,15,5],
 [80,-73,63,-74,44,-55,52,-49,60,-36,45,-25,30,-14,15,-5],
 [93,-47,85,-42,74,-48,66,-35],
 [95,-77,100,-77,90,-80,80,-71],
 [-45,18,-38,20,-30,15,-22,13,-12,7,-4,2],
 [-22,-112,-19,-105,-16,-108,-19,-99],
 [0,0,6,-5,2,-11,8,-15,13,-10,18,-16,15,-22,9,-19,5,-25,2,-14],
 [1,0,-4,5,-9,2,-14,8,-19,4,-25,9,-17,12,-10,9,-5,13,-3,6],
 [0,-1,-5,-7,-11,-4,-15,-11,-9,-14,-13,-21,-6,-20,-3,-12],
 [1,1,6,4,12,8,9,14,15,12,20,6,26,9,30,3,22,0,13,-1,6,-3],
 [-1,1,1,8,-3,13,3,18,-2,24,3,29,7,22,5,13,10,8],
 [-32,12,-25,8,-18,6,-12,4,-6,2,-2,0],
 [2,-3,-1,-6,2,-9,-2,-11,-5,-8,-3,-4,-7,-3,-4,1,-1,3,3,1],
 [4,3,7,0,4,-3,9,-5,11,-1,7,3],
 [-3,-22,-1,-16,-4,-12,-1,-7,2,-3],
 [24,-18,18,-14,13,-11,8,-7,3,-3],
 [-8,12,-5,7,-2,9,0,4,3,6,1,1]
];
const cGreen = [
 [-79,210,-79,171,-78,165,-63,164,-63,167,-71,145,-62,137,-49,126,-36,109,-37,105,-16,92,-14,98,-5,82,8,72,12,63,9,46,3,23,0,5],
 [145,130,137,121,118,106,98,92,80,74,55,53,31,33,12,14,2,2],
 [-124,54,-114,35,-103,12,-112,37],
 [-114,37,-100,23,-85,28,-79,21,-88,17,-89,-1,-88,2,-79,-22,-68,-44,-63,-54,-62,-63,-76,-71,-88,-66,-85,-58,-96,-54,-119,-58,-128,-56,-140,-59],
 [-63,-63,-58,-81,-17,-97,-8,-89,-9,-102,-15,-113,-12,-109],
 [-79,20,-68,23,-55,17,-65,11,-37,5,-20,2],
 [-53,-107,-46,-87,-39,-64,-46,-58,-48,-41,-46,-11,-43,-25,-25,-21,-12,-9,-2,-2],
 [-19,61,-15,40,-9,23,-6,8,-17,55,-12,35,-7,18,-2,3],
 [17,-38,30,-45,41,-62,42,-68,37,-52,22,-30,10,-12],
 [12,-30,22,-32,28,-36,20,-24],
 [0,1,3,10,-1,17,4,24,0,31,5,37,8,27,5,16],
 [0,0,-6,4,-11,9,-16,6,-22,13,-27,19,-19,21,-12,13],
 [1,-1,5,-8,11,-12,9,-19,15,-25,20,-20,16,-10,8,-6],
 [-1,0,-4,-8,-9,-5,-13,-12,-19,-16,-23,-10,-16,-6,-8,-3],
 [-30,-18,-22,-13,-15,-9,-8,-5,-2,-1],
 [-6,38,-3,28,-4,18,-1,9,0,2],
 [-14,24,-9,16,-5,9,-2,3]
];
const cSky = [
 [38,152,37,137,53,118,48,102,38,99,34,99,34,86,21,60,23,49,31,34,20,18],
 [169,67,149,67,140,63,126,59,109,57,77,51,52,44,34,31,15,21,3,6],
 [140,62,142,60,145,66,138,63],
 [71,5,88,-9,103,-8,101,-25,98,-28,95,-24,86,-22,86,-12,64,-16,52,-24,43,-22,35,-10],
 [58,17,71,5,80,-4,90,-11,86,-13],
 [31,-67,25,-63,21,-47,15,-32,3,-21],
 [17,-51,9,-53,-2,-41,-9,-31,-3,-12],
 [-16,79,-2,73,-3,54,-10,52,-16,60,-18,79,-9,54,4,48,10,35,2,28,-5,18],
 [25,32,40,24,50,26,64,31,66,20,60,17,45,18,30,10],
 [15,16,21,10,27,22,32,14,25,5,18,8,12,14,8,22,2,26,6,14],
 [10,8,17,3,24,8,30,0,22,-6,14,-3,8,2],
 [22,35,12,26,20,20,10,12,18,6,26,16,34,24,24,28,15,22],
 [0,0,5,6,10,12,6,18,13,22,18,28,24,22,19,15,26,12,20,5,13,7],
 [0,-1,3,-8,-2,-14,4,-19,9,-13,13,-21,17,-14,11,-7],
 [1,1,-4,4,-8,9,-3,14,-7,20,-1,24,3,17,7,21,6,11],
 [18,14,22,18,19,22,25,24,28,19,24,15,29,12,25,8,20,11,16,8,12,11,15,16],
 [12,20,16,25,21,28,17,32,22,36,27,31,23,27,28,24,33,28,30,20,26,17],
 [8,4,13,8,11,14,17,17,21,13,26,15,23,9,18,7,14,3],
 [20,-8,24,-14,19,-22,16,-30,22,-36,25,-48,19,-42,15,-28,8,-14],
 [5,-15,8,-22,4,-28,10,-33,14,-26,9,-18],
 [30,14,36,10,32,4,38,-2,30,-3,24,3,18,-1,13,2]
];
const cWine = [
 [-19,34,-9,48,-2,62,12,80,28,93,46,98,63,98,75,79,86,73,103,71,103,63,95,60,100,57,97,64,86,50],
 [60,17,64,31,80,51,83,69,86,73,78,63,83,54,88,67,93,76,98,75,94,65],
 [-65,-90,-59,-80,-53,-64,-51,-55,-39,-56,-39,-44,-42,-40,-19,-35,-19,-53,-17,-71,-9,-81,1,-93],
 [-42,-10,-45,-12,-38,-10,-30,-15,-25,-5,-12,-2],
 [-38,25,-35,20,-30,25,-25,15,-18,12,-8,5],
 [25,18,37,16,33,8,28,-2,35,-6,38,4,22,2],
 [0,0,-6,-4,-3,-11,-9,-15,-13,-9,-19,-13,-23,-7,-15,-3,-9,-7],
 [1,0,5,5,1,11,7,15,3,20,-3,16,-2,8],
 [0,1,-5,6,-9,3,-14,9,-18,15,-24,12,-16,7,-8,8],
 [1,-1,7,-4,13,-1,19,-6,24,-2,29,-8,22,-12,14,-9,8,-13,5,-6],
 [-1,-1,2,-8,-3,-15,3,-21,-2,-27,-7,-22,-5,-12],
 [0,0,7,3,14,7,20,2,27,6,35,3,28,-2,18,-3,10,-1],
 [4,-2,8,-6,12,-3,9,-10,14,-14,18,-10,15,-5,10,-3],
 [-6,8,-3,14,1,21,-2,28,-8,38,-12,42,-5,30,-2,18],
 [3,2,8,-1,6,5,11,7,9,-2,5,-4,2,-1],
 [-2,-35,-5,-26,-1,-18,-4,-10,-1,-4],
 [-24,-10,-18,-6,-12,-7,-6,-3],
 [2,-1,6,-8,3,-14,8,-20,12,-14]
];

const colorKeys = ["blue","red","yellow","purple","green","sky","wine"];
const panelData = [
 [aBlue,aRed,aYellow,aPurple,aGreen,aSky,aWine],
 [bBlue,bRed,bYellow,bPurple,bGreen,bSky,bWine],
 [cBlue,cRed,cYellow,cPurple,cGreen,cSky,cWine]
];

function rowsOf(groups){
  const rows = [];
  const n = d3.max(groups, g => g.length);
  for (let i = 0; i < n; i++) {
    groups.forEach((g, c) => {
      if (!g[i]) return;
      const id = colorKeys[c] + i;
      for (let k = 0; k < g[i].length; k += 2)
        rows.push({id, color: colorNames[colorKeys[c]], x: g[i][k], y: g[i][k+1]});
    });
  }
  return rows;
}

// position of each axes box on the page
const boxes = [
 {left:88,  top:68,  w:432, h:463, titleX:304, titleY:29, letterX:9,   letterY:3},
 {left:677, top:68,  w:432, h:463, titleX:893, titleY:23, letterX:599, letterY:3},
 {left:367, top:685, w:433, h:462, titleX:585, titleY:645, letterX:290, letterY:620}
];
const mL = 60, mT = 10, mR = 22, mB = 40;
const fmt = d => String(d);
const page = document.getElementById("page");
const axisFont = {fontSize:20.5, fontFamily:"'Liberation Sans', sans-serif", fill:"#404040", stroke:"#404040", label:null};

panelData.forEach((groups, i) => {
  const b = boxes[i];
  const chart = Plot.plot({
    width: b.w + mL + mR, height: b.h + mT + mB,
    marginLeft: mL, marginTop: mT, marginRight: mR, marginBottom: mB,
    style: {background:"transparent", overflow:"visible", maxWidth:"none"},
    x: {domain:[-200,200], label:null},
    y: {domain:[-200,200], label:null},
    color: {type:"identity"},
    marks: [
      Plot.gridX(tickValues, {stroke:"#dcdcdc", strokeOpacity:1, strokeWidth:1}),
      Plot.gridY(tickValues, {stroke:"#dcdcdc", strokeOpacity:1, strokeWidth:1}),
      Plot.line(rowsOf(groups), {x:"x", y:"y", z:"id", stroke:"color", strokeWidth:1.05, strokeOpacity:0.92, curve:"linear", clip:true, strokeLinejoin:"round"}),
      Plot.axisX({ticks:tickValues, anchor:"bottom", tickSize:-4, tickPadding:16, tickFormat:fmt, ...axisFont}),
      Plot.axisY({ticks:tickValues, anchor:"left", tickSize:-4, tickPadding:12, tickFormat:fmt, ...axisFont}),
      Plot.ruleX([-200], {stroke:"#555"}),
      Plot.ruleY([-200], {stroke:"#555"})
    ]
  });
  const holder = document.createElement("div");
  holder.className = "panelPlot";
  holder.style.left = (b.left - mL) + "px";
  holder.style.top = (b.top - mT) + "px";
  holder.appendChild(chart);
  page.appendChild(holder);

  const t = document.createElement("div");
  t.className = "title"; t.textContent = titles[i];
  t.style.left = b.titleX + "px"; t.style.top = b.titleY + "px";
  page.appendChild(t);

  const l = document.createElement("div");
  l.className = "letter"; l.textContent = letters[i];
  l.style.left = b.letterX + "px"; l.style.top = b.letterY + "px";
  page.appendChild(l);

  const xl = document.createElement("div");
  xl.className = "lab"; xl.innerHTML = "x (<i>μ</i>m)";
  xl.style.left = (b.left + b.w/2) + "px"; xl.style.top = (b.top + b.h + 39) + "px";
  xl.style.transform = "translateX(-50%)";
  page.appendChild(xl);

  const yl = document.createElement("div");
  yl.className = "lab"; yl.innerHTML = "y (<i>μ</i>m)";
  yl.style.left = (b.left - 62) + "px"; yl.style.top = (b.top + b.h/2) + "px";
  yl.style.transform = "translate(-50%,-50%) rotate(-90deg) scaleX(1.07)";
  page.appendChild(yl);
});
</script>
</body>
</html>
